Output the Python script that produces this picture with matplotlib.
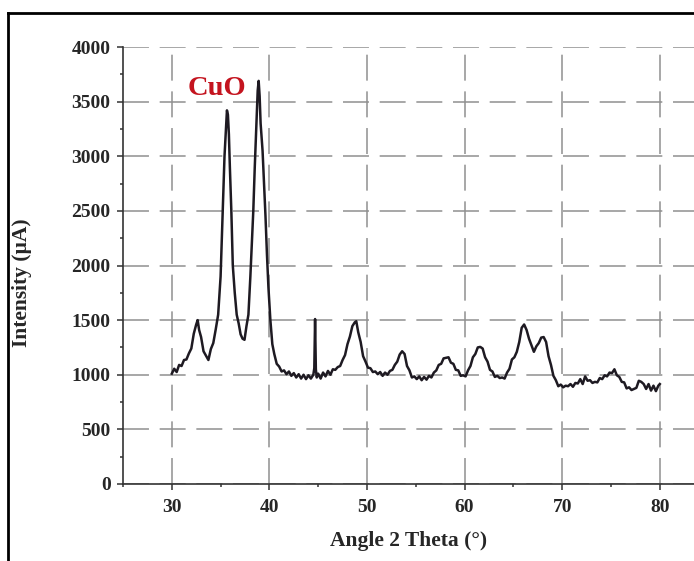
import matplotlib
matplotlib.use('Agg')
import matplotlib.pyplot as plt
from matplotlib.lines import Line2D
from matplotlib.ticker import MultipleLocator

# XRD pattern (angle 2theta, intensity uA)
angle = [30.00, 30.25, 30.50, 30.75, 31.00, 31.25, 31.50, 31.75, 32.00, 32.25,
         32.50, 32.65, 32.80, 33.00, 33.25, 33.50, 33.75, 34.00, 34.25, 34.50,
         34.75, 35.00, 35.20, 35.40, 35.55, 35.65, 35.75, 35.85, 35.95, 36.10,
         36.25, 36.45, 36.65, 36.85, 37.05, 37.25, 37.45, 37.65, 37.85, 38.05,
         38.20, 38.35, 38.50, 38.65, 38.80, 38.90, 39.00, 39.10, 39.30, 39.45,
         39.60, 39.75, 39.90, 40.10, 40.30, 40.50, 40.75, 41.00, 41.25, 41.50,
         41.75, 42.00, 42.25, 42.50, 42.75, 43.00, 43.25, 43.50, 43.75, 44.00,
         44.25, 44.50, 44.60, 44.68, 44.76, 44.85, 45.00, 45.25, 45.50, 45.75,
         46.00, 46.25, 46.50, 46.75, 47.00, 47.25, 47.50, 47.75, 48.00, 48.25,
         48.50, 48.75, 48.90, 49.10, 49.35, 49.60, 49.85, 50.10, 50.35, 50.60,
         50.85, 51.10, 51.35, 51.60, 51.85, 52.10, 52.35, 52.60, 52.85, 53.10,
         53.35, 53.60, 53.85, 54.10, 54.35, 54.60, 54.85, 55.10, 55.35, 55.60,
         55.85, 56.10, 56.35, 56.60, 56.85, 57.10, 57.35, 57.60, 57.85, 58.10,
         58.35, 58.60, 58.85, 59.10, 59.35, 59.60, 59.85, 60.10, 60.35, 60.60,
         60.85, 61.10, 61.35, 61.60, 61.85, 62.10, 62.35, 62.60, 62.85, 63.10,
         63.35, 63.60, 63.85, 64.10, 64.35, 64.60, 64.85, 65.10, 65.35, 65.60,
         65.85, 66.10, 66.35, 66.60, 66.85, 67.10, 67.35, 67.60, 67.85, 68.10,
         68.35, 68.60, 68.85, 69.10, 69.35, 69.60, 69.85, 70.10, 70.35, 70.60,
         70.85, 71.10, 71.35, 71.60, 71.85, 72.10, 72.35, 72.60, 72.85, 73.10,
         73.35, 73.60, 73.85, 74.10, 74.35, 74.60, 74.85, 75.10, 75.35, 75.60,
         75.85, 76.10, 76.35, 76.60, 76.85, 77.10, 77.35, 77.60, 77.85, 78.10,
         78.35, 78.60, 78.85, 79.10, 79.35, 79.60, 79.85, 80.00]
intensity = [1010, 1055, 1025, 1090, 1080, 1135, 1140, 1195, 1240, 1375,
             1460, 1500, 1410, 1345, 1215, 1175, 1135, 1235, 1290, 1415,
             1550, 1900, 2450, 3000, 3250, 3420, 3380, 3200, 2900, 2500,
             2000, 1750, 1550, 1470, 1370, 1330, 1320, 1445, 1550, 1900,
             2200, 2500, 2900, 3250, 3600, 3690, 3550, 3300, 3050, 2750,
             2450, 2100, 1800, 1500, 1280, 1190, 1100, 1075, 1030, 1040,
             1005, 1030, 990, 1015, 975, 1005, 965, 1000, 960, 995,
             965, 1000, 1060, 1510, 1050, 975, 1010, 965, 1020, 985,
             1035, 1000, 1050, 1045, 1070, 1080, 1135, 1180, 1280, 1350,
             1445, 1480, 1490, 1390, 1300, 1170, 1120, 1065, 1060, 1025,
             1030, 1005, 1025, 990, 1020, 1000, 1035, 1045, 1090, 1120,
             1185, 1215, 1190, 1080, 1040, 975, 985, 960, 985, 950,
             980, 955, 990, 975, 1020, 1040, 1090, 1100, 1150, 1155,
             1160, 1110, 1100, 1045, 1040, 990, 995, 985, 1040, 1080,
             1160, 1190, 1250, 1255, 1240, 1160, 1120, 1045, 1030, 980,
             990, 970, 975, 965, 1020, 1055, 1140, 1160, 1210, 1300,
             1430, 1460, 1410, 1330, 1270, 1210, 1260, 1290, 1340, 1345,
             1300, 1170, 1090, 990, 950, 895, 910, 885, 900, 895,
             915, 890, 925, 920, 960, 915, 985, 945, 950, 925,
             935, 930, 970, 960, 995, 985, 1020, 1015, 1050, 995,
             980, 935, 930, 875, 885, 860, 870, 880, 945, 935,
             915, 870, 915, 855, 900, 850, 900, 915]

xticks = [30, 40, 50, 60, 70, 80]
yticks = [0, 500, 1000, 1500, 2000, 2500, 3000, 3500, 4000]

plt.rcParams['font.family'] = ['Liberation Serif', 'DejaVu Serif']
plt.rcParams['font.weight'] = 'bold'

fig = plt.figure(figsize=(6.94, 5.61), dpi=100)
ax = fig.add_axes([123/694, 77/561, 571/694, 437/561])

ax.plot(angle, intensity, color='#1e1a22', lw=1.8)

ax.set_xlim(25, 25 + 571/9.76)
ax.set_ylim(0, 4000)
ax.set_xticks(xticks)
ax.set_yticks(yticks)
ax.xaxis.set_minor_locator(MultipleLocator(5))
ax.yaxis.set_minor_locator(MultipleLocator(250))

ax.spines['top'].set_visible(False)
ax.spines['right'].set_visible(False)
for s in ['left', 'bottom']:
    ax.spines[s].set_color('#333333')
    ax.spines[s].set_linewidth(1.2)

ax.tick_params(which='major', direction='out', length=4, width=1.1,
               color='#333333', labelsize=14, labelcolor='#262626', pad=5)
ax.tick_params(axis='x', which='major', pad=7)
ax.tick_params(which='minor', direction='out', length=2.5, width=1.1,
               color='#333333')

ax.grid(True, which='major', color='#909090', lw=1.1, ls=(0, (17, 7)))

ax.set_xlabel('Angle 2 Theta (°)', fontsize=15.5, fontweight='bold', color='#262626')
ax.set_ylabel('Intensity (µA)', fontsize=15.5, fontweight='bold', color='#262626')
ax.xaxis.set_label_coords(0.5, -0.108)
ax.yaxis.set_label_coords(-0.16, 0.46)

ax.text(34.6, 3616, 'CuO', color='#c4141f', fontsize=20.5, fontweight='bold',
        ha='center', va='center')

# frame of the original picture
fig.add_artist(Line2D([8/694, 1], [1 - 13/561, 1 - 13/561], color='black', lw=2,
                      transform=fig.transFigure))
fig.add_artist(Line2D([8/694, 8/694], [0, 1 - 13/561], color='black', lw=2,
                      transform=fig.transFigure))

fig.savefig('out.png', dpi=100)
